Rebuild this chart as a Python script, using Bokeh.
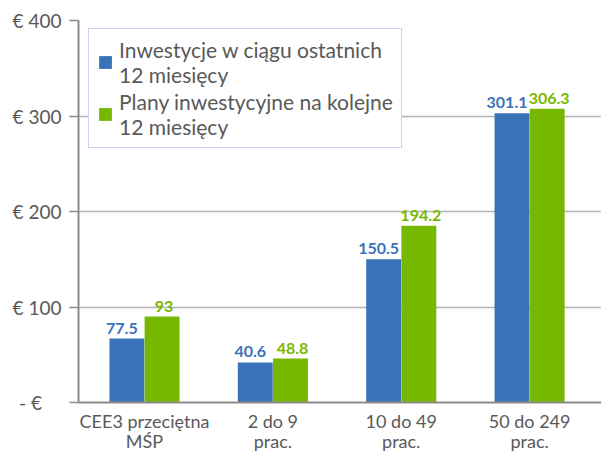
import numpy as np
from bokeh.plotting import figure
from bokeh.models import (FixedTicker, ColumnDataSource, LabelSet, Legend, LegendItem, Range1d,
                          LinearAxis)
from bokeh.core.properties import value
from bokeh.embed import file_html
from bokeh.resources import INLINE

categories_line1 = ["CEE3 przeciętna", "2 do 9", "10 do 49", "50 do 249"]
categories_line2 = ["MŚP", "prac.", "prac.", "prac."]
series_names = ["Inwestycje w ciągu ostatnich\n12 miesięcy", "Plany inwestycyjne na kolejne\n12 miesięcy"]
past_values = [67, 42, 150, 303]
plan_values = [90, 46, 185, 307.5]
past_labels = ["77.5", "40.6", "150.5", "301.1"]
plan_labels = ["93", "48.8", "194.2", "306.3"]
y_ticks = [0, 100, 200, 300, 400]
y_tick_labels = ["-  €\u00a0\u00a0\u00a0", "€ 100", "€ 200", "€ 300", "€ 400"]

BLUE = "#3A72B8"
GREEN = "#76B800"
GREY_TXT = "#595959"
FONT = "Lato"

idx = np.arange(len(categories_line1))
off = 0.137
bw = 0.272

p = figure(width=601, height=454, output_backend="svg", toolbar_location=None,
           x_range=Range1d(-0.514, 3.56), y_range=Range1d(0, 400),
           min_border_left=78, min_border_right=0, min_border_top=20, min_border_bottom=52)
p.outline_line_color = None
p.background_fill_color = "white"

src_a = ColumnDataSource(dict(x=idx - off, top=past_values, lab=past_labels))
src_b = ColumnDataSource(dict(x=idx + off, top=plan_values, lab=plan_labels))
ra = p.vbar(x="x", top="top", width=bw, source=src_a, fill_color=BLUE, line_color=None)
rb = p.vbar(x="x", top="top", width=bw, source=src_b, fill_color=GREEN, line_color=None)

for src, col, dx in ((src_a, BLUE, -5), (src_b, GREEN, 2)):
    p.add_layout(LabelSet(x="x", y="top", text="lab", source=src, y_offset=5, x_offset=dx,
                          text_align="center", text_baseline="bottom",
                          text_font=value(FONT), text_font_style="bold", text_font_size="16px",
                          text_color=col))

# y axis
p.yaxis.ticker = FixedTicker(ticks=y_ticks)
p.yaxis.major_label_overrides = {t: l for t, l in zip(y_ticks, y_tick_labels)}
p.yaxis.major_label_text_font = FONT
p.yaxis.major_label_text_font_size = "19px"
p.yaxis.major_label_text_color = GREY_TXT
p.yaxis.major_tick_out = 9
p.yaxis.major_tick_in = 0
p.yaxis.minor_tick_line_color = None
p.yaxis.major_label_standoff = 8
p.yaxis.axis_line_color = "#8c8c8c"
p.yaxis.axis_line_width = 2
p.yaxis.major_tick_line_color = "#8c8c8c"
p.yaxis.major_tick_line_width = 1.5

# x axis: first line of category labels
xa = p.xaxis[0]
xa.ticker = FixedTicker(ticks=list(idx))
xa.major_label_overrides = {int(i): c for i, c in zip(idx, categories_line1)}
xa.major_label_text_font = FONT
xa.major_label_text_font_size = "18px"
xa.major_label_text_color = GREY_TXT
xa.major_tick_out = 0
xa.major_tick_in = 0
xa.major_tick_line_color = None
xa.minor_tick_line_color = None
xa.major_label_standoff = 7
xa.axis_line_color = "#8c8c8c"
xa.axis_line_width = 2

# second line of category labels
xb = LinearAxis(ticker=FixedTicker(ticks=list(idx)),
                major_label_overrides={int(i): c for i, c in zip(idx, categories_line2)},
                major_label_text_font=FONT, major_label_text_font_size="18px",
                major_label_text_color=GREY_TXT, major_tick_out=0, major_tick_in=0,
                major_tick_line_color=None, minor_tick_line_color=None,
                major_label_standoff=-5, axis_line_color=None)
p.add_layout(xb, "below")

p.xgrid.grid_line_color = None
p.ygrid.ticker = FixedTicker(ticks=[100, 200, 300, 400])
p.ygrid.grid_line_color = "#b3b3b3"
p.ygrid.grid_line_width = 1.5

legend = Legend(items=[LegendItem(label=series_names[0], renderers=[ra]),
                       LegendItem(label=series_names[1], renderers=[rb])],
                location=(10, 254), orientation="vertical",
                label_text_font=FONT, label_text_font_size="21px", label_text_color=GREY_TXT,
                label_text_line_height=1.1,
                glyph_width=16, glyph_height=16, label_standoff=6, spacing=2, padding=8,
                margin=0, border_line_color="#8eaadb", border_line_width=1.5,
                background_fill_alpha=1.0)
p.add_layout(legend, "center")

open("out.html", "w").write(file_html(p, INLINE))
